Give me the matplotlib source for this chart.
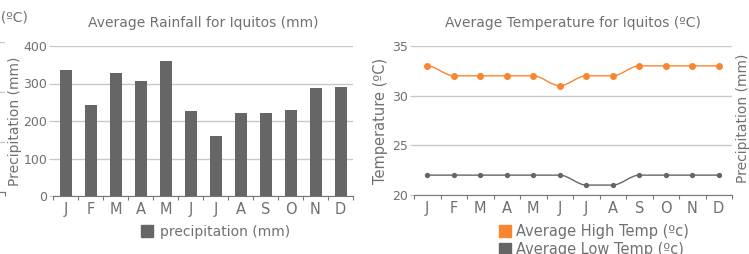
import numpy as np
import matplotlib
matplotlib.use('Agg')
import matplotlib.pyplot as plt
from matplotlib.path import Path
from matplotlib.patches import PathPatch
from matplotlib.lines import Line2D

months = ['J', 'F', 'M', 'A', 'M', 'J', 'J', 'A', 'S', 'O', 'N', 'D']
rainfall = [335, 244, 329, 308, 359, 227, 160, 222, 222, 230, 289, 292]
high_temp = [33, 32, 32, 32, 32, 31, 32, 32, 33, 33, 33, 33]
low_temp = [22, 22, 22, 22, 22, 22, 21, 21, 22, 22, 22, 22]
rain_ticks = [0, 100, 200, 300, 400]
temp_ticks = [20, 25, 30, 35]

W, H = 749, 254
GREY = '#666666'
ORANGE = '#f7862f'
GRID = '#c8c8c8'
TXT = '#707070'

fig = plt.figure(figsize=(W / 100, H / 100), dpi=100)


def px_axes(x0, y0, x1, y1):
    # pixel box (top-left origin) -> figure axes
    return fig.add_axes([x0 / W, 1 - y1 / H, (x1 - x0) / W, (y1 - y0) / H])


def style(ax, ticks, lim):
    ax.set_xlim(-0.5, 11.5)
    ax.set_ylim(*lim)
    ax.set_yticks(ticks)
    ax.set_xticks(np.arange(-0.5, 12, 1))
    ax.set_xticks(np.arange(12), minor=True)
    ax.set_xticklabels([])
    ax.set_xticklabels(months, minor=True)
    ax.tick_params(axis='x', which='major', length=3, color='#777777', direction='out')
    ax.tick_params(axis='x', which='minor', length=0, labelsize=10.5, labelcolor=TXT, pad=4)
    ax.tick_params(axis='y', length=3, color=GRID, labelsize=9, labelcolor=TXT, pad=1)
    for s in ['top', 'right', 'left']:
        ax.spines[s].set_visible(False)
    ax.spines['bottom'].set_color('#777777')
    ax.yaxis.grid(True, color=GRID, lw=1)
    ax.set_axisbelow(True)


# clipped neighbour chart on the far left
ghost = px_axes(-300, 42, 5, 192)
style(ghost, temp_ticks, (20, 35))
ghost.tick_params(labelleft=False, labelbottom=False, which='both')
fig.text(28 / W, 1 - 18 / H, 'Average Temperature for Iquitos (ºC)', ha='right', va='center',
         fontsize=10, color=TXT)

# rainfall chart
ax1 = px_axes(53, 46, 353, 196)
style(ax1, rain_ticks, (0, 400))
ax1.bar(np.arange(12), rainfall, width=0.48, color=GREY)
ax1.set_ylabel('Precipitation (mm)', fontsize=10, color=TXT, labelpad=1)
ax1.set_title('Average Rainfall for Iquitos (mm)', fontsize=10, color=TXT, pad=14)
ax1.legend(handles=[Line2D([], [], ls='', marker='s', ms=8, color=GREY)],
           labels=['precipitation (mm)'], frameon=False, loc='center',
           bbox_to_anchor=(215 / W, 1 - 232 / H), bbox_transform=fig.transFigure,
           fontsize=10, labelcolor=TXT, handletextpad=0.4, handlelength=1)

# temperature chart
ax2 = px_axes(414, 46, 732, 195)
style(ax2, temp_ticks, (20, 35))


def smooth(ax, ys, color):
    # horizontal-tangent cubic segments between monthly points
    verts = [(0, ys[0])]
    codes = [Path.MOVETO]
    for i in range(len(ys) - 1):
        verts += [(i + 1 / 3, ys[i]), (i + 2 / 3, ys[i + 1]), (i + 1, ys[i + 1])]
        codes += [Path.CURVE4] * 3
    ax.add_patch(PathPatch(Path(verts, codes), fc='none', ec=color, lw=1.0))


smooth(ax2, high_temp, ORANGE)
smooth(ax2, low_temp, GREY)
ax2.plot(np.arange(12), high_temp, ls='', marker='o', ms=4, color=ORANGE)
ax2.plot(np.arange(12), low_temp, ls='', marker='o', ms=2.8, color=GREY)
ax2.set_ylabel('Temperature (ºC)', fontsize=10.5, color=TXT, labelpad=3)
ax2.set_title('Average Temperature for Iquitos (ºC)', fontsize=10, color=TXT, pad=14)
fig.text(743 / W, 1 - 118 / H, 'Precipitation (mm)', rotation=90, ha='center', va='center',
         fontsize=10, color=TXT)
ax2.legend(handles=[Line2D([], [], ls='', marker='s', ms=8, color=ORANGE),
                    Line2D([], [], ls='', marker='s', ms=8, color=GREY)],
           labels=['Average High Temp (ºc)', 'Average Low Temp (ºc)'], frameon=False,
           loc='upper left', bbox_to_anchor=(490 / W, 1 - 217 / H), bbox_transform=fig.transFigure,
           fontsize=10.5, labelcolor=TXT, handletextpad=0.3, handlelength=1,
           labelspacing=0.2, borderpad=0)

fig.savefig('out.png', dpi=100)
